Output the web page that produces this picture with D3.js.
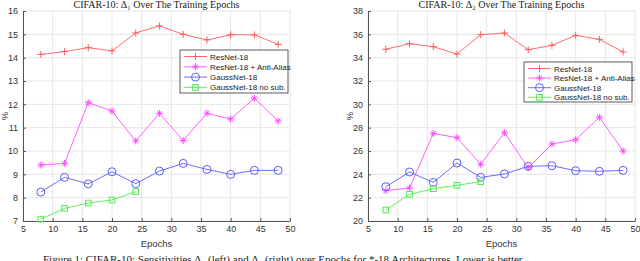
<!DOCTYPE html>
<html><head><meta charset="utf-8">
<script src="https://cdn.jsdelivr.net/npm/d3@7"></script>
<style>body{margin:0;background:#fff;overflow:hidden}svg{display:block}</style>
</head><body><svg id="c" width="640" height="261"></svg>
<script>
const epochs = [8,12,16,20,24,28,32,36,40,44,48];
const epochsNoSub = [8,12,16,20,24];
const seriesNames = ["ResNet-18","ResNet-18 + Anti-Alias","GaussNet-18","GaussNet-18 no sub."];
const d1ResNet = [14.14,14.26,14.43,14.29,15.06,15.36,15.0,14.76,14.98,14.98,14.57];
const d1Anti = [9.4,9.47,12.07,11.71,10.43,11.61,10.45,11.62,11.37,12.26,11.29];
const d1Gauss = [8.24,8.87,8.59,9.11,8.6,9.14,9.47,9.21,9.0,9.17,9.17];
const d1NoSub = [7.08,7.54,7.77,7.9,8.26];
const d2ResNet = [34.72,35.2,34.94,34.31,35.97,36.11,34.68,35.06,35.91,35.57,34.49];
const d2Anti = [22.6,22.83,27.51,27.14,24.86,27.57,24.57,26.6,26.97,28.89,26.0];
const d2Gauss = [22.94,24.2,23.31,24.97,23.74,24.03,24.69,24.74,24.31,24.26,24.34];
const d2NoSub = [20.94,22.29,22.77,23.06,23.37];
const xTicks = [5,10,15,20,25,30,35,40,45,50];
const y1Ticks = [7,8,9,10,11,12,13,14,15,16];
const y2Ticks = [20,22,24,26,28,30,32,34,36,38];
const titles = ["CIFAR-10: Δ\u2081 Over The Training Epochs","CIFAR-10: Δ\u2082 Over The Training Epochs"];
const caption = "Figure 1: CIFAR-10: Sensitivities Δ\u2081 (left) and Δ\u2082 (right) over Epochs for *-18 Architectures. Lower is better.";

const colors = ["#ff5c5c","#ff4dff","#5c5cff","#4ded4d"];
const markers = ["plus","star","circle","square"];
const svg = d3.select("#c");

function marker(g, type, x, y, color, s) {
  if (type === "plus") {
    g.append("path").attr("d",`M${x-s},${y}H${x+s}M${x},${y-s}V${y+s}`).attr("stroke",color).attr("stroke-width",1).attr("fill","none");
  } else if (type === "star") {
    const d = s*0.7;
    g.append("path").attr("d",`M${x-s},${y}H${x+s}M${x},${y-s}V${y+s}M${x-d},${y-d}L${x+d},${y+d}M${x-d},${y+d}L${x+d},${y-d}`).attr("stroke",color).attr("stroke-width",1).attr("fill","none");
  } else if (type === "circle") {
    g.append("circle").attr("cx",x).attr("cy",y).attr("r",s).attr("stroke",color).attr("stroke-width",1).attr("fill","none");
  } else {
    g.append("rect").attr("x",x-s*0.8).attr("y",y-s*0.8).attr("width",s*1.6).attr("height",s*1.6).attr("stroke",color).attr("stroke-width",1).attr("fill","none");
  }
}

function panel(cfg) {
  const x = d3.scaleLinear().domain([5,50]).range([cfg.x0,cfg.x1]);
  const y = d3.scaleLinear().domain(cfg.ydom).range([cfg.y1,cfg.y0]);
  const g = svg.append("g");
  g.selectAll(".gx").data(xTicks).enter().append("line")
    .attr("x1",d=>x(d)).attr("x2",d=>x(d)).attr("y1",cfg.y0).attr("y2",cfg.y1)
    .attr("stroke","#e6e6e6").attr("stroke-width",1);
  g.selectAll(".gy").data(cfg.yticks).enter().append("line")
    .attr("x1",cfg.x0).attr("x2",cfg.x1).attr("y1",d=>y(d)).attr("y2",d=>y(d))
    .attr("stroke","#e6e6e6").attr("stroke-width",1);
  const ax = g.append("g").attr("transform",`translate(0,${cfg.y1})`)
    .call(d3.axisBottom(x).tickValues(xTicks).tickSizeInner(-3).tickSizeOuter(0).tickPadding(5));
  const ay = g.append("g").attr("transform",`translate(${cfg.x0},0)`)
    .call(d3.axisLeft(y).tickValues(cfg.yticks).tickSizeInner(-3).tickSizeOuter(0).tickPadding(5));
  [ax,ay].forEach(a=>{
    a.select(".domain").attr("stroke","#555");
    a.selectAll(".tick line").attr("stroke","#555");
    a.selectAll("text").attr("fill","#333").attr("font-family","Liberation Sans, Arial, sans-serif").attr("font-size","9px");
  });
  cfg.series.forEach((s,i)=>{
    const pts = s.xs.map((e,k)=>[x(e),y(s.ys[k])]);
    g.append("path").attr("d",d3.line()(pts)).attr("stroke",colors[i]).attr("stroke-width",0.9).attr("fill","none");
    pts.forEach(p=>marker(g,markers[i],p[0],p[1],colors[i],i===2?4:3.5));
  });
  g.append("text").attr("x",(cfg.x0+cfg.x1)/2).attr("y",8).attr("text-anchor","middle")
    .attr("font-family","Liberation Serif, Times New Roman, serif").attr("font-size","10px").attr("fill","#222").text(cfg.title);
  g.append("text").attr("x",(cfg.x0+cfg.x1)/2).attr("y",247).attr("text-anchor","middle")
    .attr("font-family","Liberation Sans, Arial, sans-serif").attr("font-size","9.5px").attr("fill","#333").text("Epochs");
  g.append("text").attr("transform",`translate(${cfg.x0-15},${(cfg.y0+cfg.y1)/2}) rotate(-90)`).attr("text-anchor","middle")
    .attr("font-family","Liberation Sans, Arial, sans-serif").attr("font-size","9.5px").attr("fill","#333").text("%");
  const L = cfg.legend;
  g.append("rect").attr("x",L.x).attr("y",L.y).attr("width",L.w).attr("height",L.h)
    .attr("fill","#fff").attr("stroke","#333").attr("stroke-width",0.8);
  seriesNames.forEach((n,i)=>{
    const yy = L.y + 6.5 + i*L.step;
    g.append("line").attr("x1",L.x+4).attr("x2",L.x+27).attr("y1",yy).attr("y2",yy).attr("stroke",colors[i]).attr("stroke-width",0.9);
    marker(g,markers[i],L.x+15.5,yy,colors[i],i===2?4:3.5);
    g.append("text").attr("x",L.x+30).attr("y",yy+3).attr("font-family","Liberation Sans, Arial, sans-serif")
      .attr("font-size","8px").attr("fill","#222").text(n);
  });
}

panel({x0:23,x1:290,y0:11,y1:221,ydom:[7,16],yticks:y1Ticks,title:titles[0],
  series:[{xs:epochs,ys:d1ResNet},{xs:epochs,ys:d1Anti},{xs:epochs,ys:d1Gauss},{xs:epochsNoSub,ys:d1NoSub}],
  legend:{x:180,y:50,w:108,h:43,step:10.3}});
panel({x0:368,x1:635,y0:11,y1:221,ydom:[20,38],yticks:y2Ticks,title:titles[1],
  series:[{xs:epochs,ys:d2ResNet},{xs:epochs,ys:d2Anti},{xs:epochs,ys:d2Gauss},{xs:epochsNoSub,ys:d2NoSub}],
  legend:{x:524,y:62,w:108,h:40,step:9.6}});

svg.append("text").attr("x",43).attr("y",263).attr("font-family","Liberation Serif, Times New Roman, serif")
  .attr("font-size","11px").attr("fill","#222").text(caption);
</script></body></html>
